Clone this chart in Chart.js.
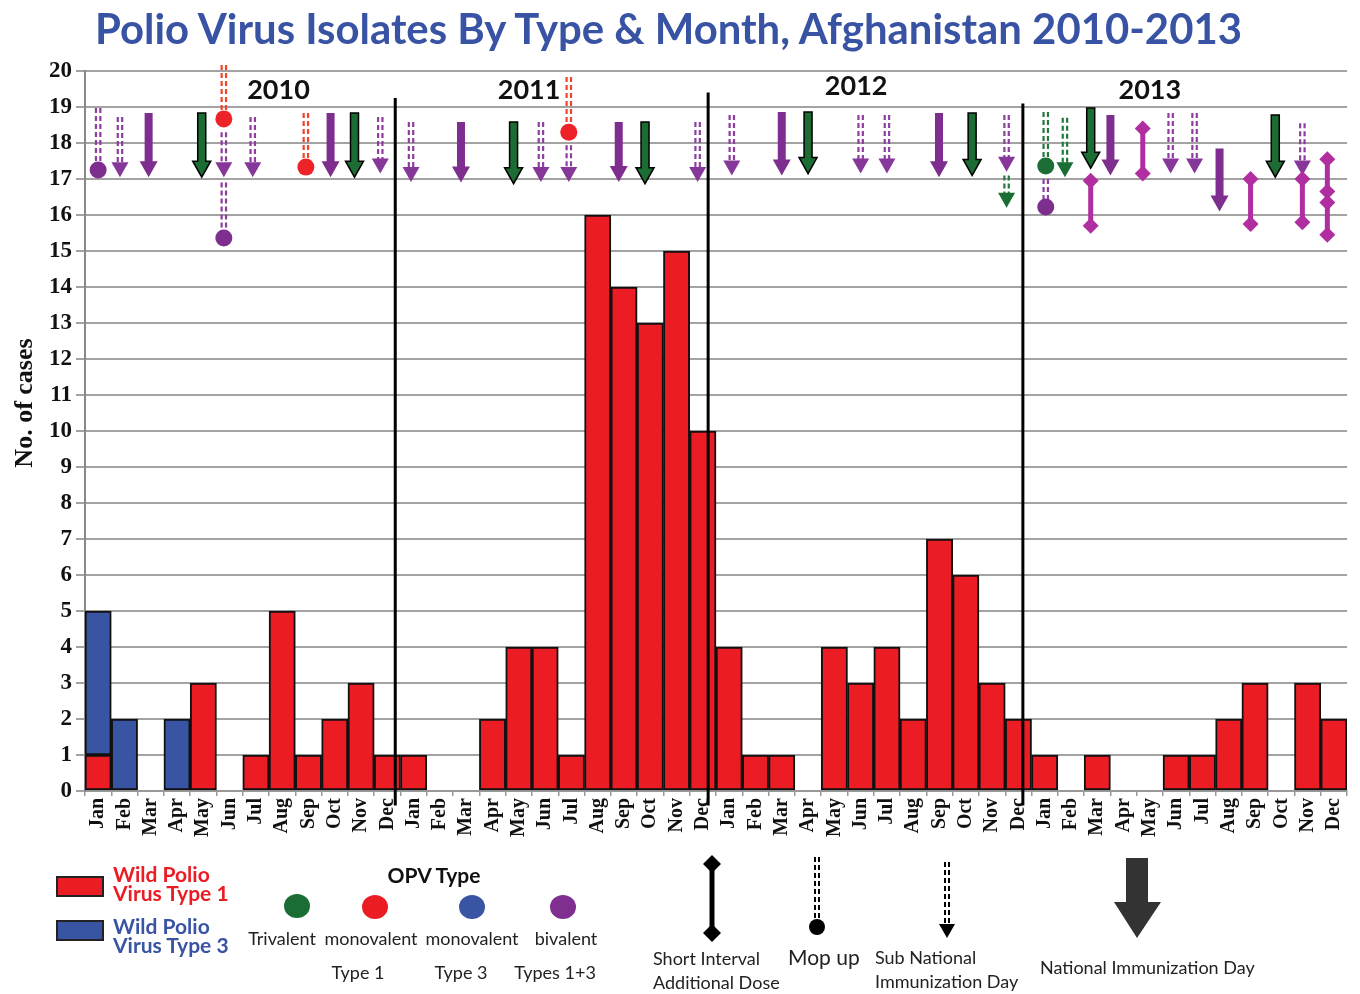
<!DOCTYPE html>
<html>
<head>
<meta charset="utf-8">
<title>Polio Virus Isolates By Type &amp; Month, Afghanistan 2010-2013</title>
<script src="https://cdn.jsdelivr.net/npm/chart.js@4.4.1/dist/chart.umd.min.js"></script>
<style>
  body { margin: 0; background: #fff; }
  #wrap { position: relative; width: 1360px; height: 994px; overflow: hidden; }
  #box { position: absolute; left: 0; top: 0; width: 1360px; height: 860px; }
  #over { position: absolute; left: 0; top: 0; pointer-events: none; }
</style>
</head>
<body>
<div id="wrap">
  <div id="box"><canvas id="polio"></canvas></div>
  <svg id="over" width="1360" height="994" xmlns="http://www.w3.org/2000/svg">
    <text x="95" y="44" font-family="Lato" font-weight="700" font-size="42" fill="#3953a4"
          textLength="1147" lengthAdjust="spacingAndGlyphs">Polio Virus Isolates By Type &amp; Month, Afghanistan 2010-2013</text>

    <!-- y axis title -->
    <text transform="translate(32,403) rotate(-90)" text-anchor="middle" font-family="Liberation Serif"
          font-weight="700" font-size="26" fill="#111">No. of cases</text>

    <!-- case legend -->
    <rect x="57" y="877" width="46" height="19" fill="#ec1c24" stroke="#222" stroke-width="2"/>
    <rect x="57" y="921" width="46" height="19" fill="#3a54a4" stroke="#222" stroke-width="2"/>
    <g font-family="Lato" font-weight="700" font-size="21">
      <text x="113" y="882" fill="#ec1c24">Wild Polio</text>
      <text x="113" y="901" fill="#ec1c24">Virus Type 1</text>
      <text x="113" y="934" fill="#3a54a4">Wild Polio</text>
      <text x="113" y="953" fill="#3a54a4">Virus Type 3</text>
      <text x="434" y="883" text-anchor="middle" fill="#111">OPV Type</text>
    </g>

    <!-- OPV type dots -->
    <ellipse cx="297" cy="906" rx="13" ry="12" fill="#1a6e35"/>
    <ellipse cx="375" cy="907" rx="13" ry="12" fill="#ec1c24"/>
    <ellipse cx="472" cy="907" rx="13" ry="12" fill="#3a54a4"/>
    <ellipse cx="563" cy="907" rx="13" ry="12" fill="#7f2f8f"/>
    <g font-family="Lato" font-size="18" fill="#222">
      <text x="282" y="945" text-anchor="middle">Trivalent</text>
      <text x="371" y="945" text-anchor="middle">monovalent</text>
      <text x="472" y="945" text-anchor="middle">monovalent</text>
      <text x="566" y="945" text-anchor="middle">bivalent</text>
      <text x="358" y="979" text-anchor="middle">Type 1</text>
      <text x="461" y="979" text-anchor="middle">Type 3</text>
      <text x="555" y="979" text-anchor="middle">Types 1+3</text>

      <text x="653" y="965">Short Interval</text>
      <text x="653" y="989">Additional Dose</text>
      <text x="788" y="965" font-size="21">Mop up</text>
      <text x="875" y="964">Sub National</text>
      <text x="875" y="988">Immunization Day</text>
      <text x="1040" y="974">National Immunization Day</text>
    </g>

    <!-- campaign legend -->
    <line x1="712" y1="864" x2="712" y2="933" stroke="#000" stroke-width="5"/>
    <polygon points="712,855 721,864 712,873 703,864" fill="#000"/>
    <polygon points="712,924 721,933 712,942 703,933" fill="#000"/>

    <line x1="815" y1="857" x2="815" y2="920" stroke="#000" stroke-width="2" stroke-dasharray="5 3"/>
    <line x1="819" y1="857" x2="819" y2="920" stroke="#000" stroke-width="2" stroke-dasharray="5 3"/>
    <circle cx="817" cy="927" r="8" fill="#000"/>

    <line x1="945" y1="862" x2="945" y2="924" stroke="#000" stroke-width="2" stroke-dasharray="5 3"/>
    <line x1="949" y1="862" x2="949" y2="924" stroke="#000" stroke-width="2" stroke-dasharray="5 3"/>
    <polygon points="939,924 955,924 947,938" fill="#000"/>

    <polygon points="1126,858 1148,858 1148,902 1161,902 1137,938 1114,902 1126,902" fill="#333"/>
  </svg>
</div>
<script>
// month labels and case counts, Jan 2010 .. Dec 2013
var months = ['Jan', 'Feb', 'Mar', 'Apr', 'May', 'Jun', 'Jul', 'Aug', 'Sep', 'Oct', 'Nov', 'Dec'];
var labels = months.concat(months, months, months);
var years = ['2010', '2011', '2012', '2013'];

var wpv1 = [1, 0, 0, 0, 3, 0, 1, 5, 1, 2, 3, 1,
            1, 0, 0, 2, 4, 4, 1, 16, 14, 13, 15, 10,
            4, 1, 1, 0, 4, 3, 4, 2, 7, 6, 3, 2,
            1, 0, 1, 0, 0, 1, 1, 2, 3, 0, 3, 2];
var wpv3 = [4, 2, 0, 2, 0, 0, 0, 0, 0, 0, 0, 0,
            0, 0, 0, 0, 0, 0, 0, 0, 0, 0, 0, 0,
            0, 0, 0, 0, 0, 0, 0, 0, 0, 0, 0, 0,
            0, 0, 0, 0, 0, 0, 0, 0, 0, 0, 0, 0];

// campaigns: [month index, start value, end value, vaccine]
var nidCampaigns = [
    [1.92, 18.83, 17.05, 'bi'], [3.94, 18.83, 17.05, 'tri'], [8.84, 18.83, 17.05, 'bi'], [9.75, 18.83, 17.05, 'tri'],
    [13.8, 18.58, 16.9, 'bi'], [15.8, 18.58, 16.87, 'tri'], [19.8, 18.58, 16.92, 'bi'], [20.8, 18.58, 16.87, 'tri'],
    [26.0, 18.86, 17.1, 'bi'], [27.0, 18.86, 17.15, 'tri'], [31.98, 18.83, 17.05, 'bi'], [33.24, 18.83, 17.1, 'tri'],
    [37.75, 18.97, 17.3, 'tri'], [38.5, 18.78, 17.1, 'bi'], [42.65, 17.85, 16.1, 'bi'], [44.77, 18.78, 17.05, 'tri']
];
var snidCampaigns = [
    [0.83, 18.72, 17.05, 'bi'], [4.78, 18.3, 17.05, 'bi'], [5.88, 18.72, 17.05, 'bi'], [10.73, 18.72, 17.15, 'bi'],
    [11.9, 18.58, 16.92, 'bi'], [16.84, 18.58, 16.92, 'bi'], [17.9, 17.94, 16.92, 'bi'], [22.8, 18.58, 16.92, 'bi'],
    [24.1, 18.78, 17.1, 'bi'], [29.0, 18.78, 17.15, 'bi'], [30.0, 18.78, 17.15, 'bi'], [34.55, 18.78, 17.2, 'bi'],
    [34.55, 17.1, 16.2, 'tri'], [36.77, 18.7, 17.05, 'tri'], [40.79, 18.83, 17.15, 'bi'], [41.7, 18.83, 17.15, 'bi'],
    [45.8, 18.55, 17.1, 'bi']
];
var mopCampaigns = [
    [0, 18.97, 17.25, 'bi'], [4.78, 20.17, 18.67, 'm1'], [4.78, 16.9, 15.36, 'bi'], [7.9, 18.83, 17.33, 'm1'],
    [17.9, 19.83, 18.3, 'm1'], [36.04, 18.86, 17.36, 'tri'], [36.04, 17.0, 16.22, 'bi']
];
var siadCampaigns = [
    [37.75, 16.95, 15.7], [39.73, 18.4, 17.15], [43.83, 17.0, 15.75], [45.8, 17.0, 15.8],
    [46.75, 17.55, 16.65], [46.75, 16.35, 15.45]
];

var vacColor = { tri: '#1b6d33', m1: '#ee2229', bi: '#7e2e8e' };
var dotColor = { tri: '#237a3c', m1: '#f0452a', bi: '#8c3f9e' };

function dotted(ctx, x, y0, y1, color) {
    ctx.save();
    ctx.strokeStyle = color;
    ctx.lineWidth = 2.2;
    ctx.setLineDash([5, 3]);
    [-2.2, 2.2].forEach(function (d) {
        ctx.beginPath();
        ctx.moveTo(x + d, y0);
        ctx.lineTo(x + d, y1);
        ctx.stroke();
    });
    ctx.restore();
}

function diamond(ctx, x, y, s) {
    ctx.beginPath();
    ctx.moveTo(x, y - s);
    ctx.lineTo(x + s, y);
    ctx.lineTo(x, y + s);
    ctx.lineTo(x - s, y);
    ctx.closePath();
    ctx.fill();
}

var campaignPlugin = {
    id: 'campaigns',
    afterDatasetsDraw: function (chart) {
        var ctx = chart.ctx, xs = chart.scales.x, ys = chart.scales.y;
        ctx.save();

        // year separators
        [[11.3, 19.25], [23.2, 19.4], [35.17, 19.1]].forEach(function (b) {
            ctx.strokeStyle = '#000';
            ctx.lineWidth = 3;
            ctx.beginPath();
            ctx.moveTo(xs.getPixelForValue(b[0]), ys.getPixelForValue(b[1]));
            ctx.lineTo(xs.getPixelForValue(b[0]), ys.getPixelForValue(-0.4));
            ctx.stroke();
        });

        // year labels
        ctx.fillStyle = '#111';
        ctx.font = 'bold 27px Lato';
        ctx.textAlign = 'center';
        [[6.86, 19.22], [16.39, 19.22], [28.83, 19.33], [40.0, 19.22]].forEach(function (p, i) {
            ctx.fillText(years[i], xs.getPixelForValue(p[0]), ys.getPixelForValue(p[1]));
        });

        // national immunization days
        nidCampaigns.forEach(function (c) {
            var x = xs.getPixelForValue(c[0]), y0 = ys.getPixelForValue(c[1]), y1 = ys.getPixelForValue(c[2]);
            ctx.beginPath();
            ctx.moveTo(x - 4, y0);
            ctx.lineTo(x + 4, y0);
            ctx.lineTo(x + 4, y1 - 16);
            ctx.lineTo(x + 9, y1 - 16);
            ctx.lineTo(x, y1);
            ctx.lineTo(x - 9, y1 - 16);
            ctx.lineTo(x - 4, y1 - 16);
            ctx.closePath();
            ctx.fillStyle = vacColor[c[3]];
            ctx.fill();
            if (c[3] === 'tri') {
                ctx.strokeStyle = '#000';
                ctx.lineWidth = 1.5;
                ctx.stroke();
            }
        });

        // sub national immunization days
        snidCampaigns.forEach(function (c) {
            var x = xs.getPixelForValue(c[0]), y0 = ys.getPixelForValue(c[1]), y1 = ys.getPixelForValue(c[2]);
            dotted(ctx, x, y0, y1 - 14, dotColor[c[3]]);
            ctx.fillStyle = c[3] === 'bi' ? '#86379a' : vacColor[c[3]];
            ctx.beginPath();
            ctx.moveTo(x - 8.5, y1 - 15);
            ctx.lineTo(x + 8.5, y1 - 15);
            ctx.lineTo(x, y1);
            ctx.closePath();
            ctx.fill();
        });

        // mop up
        mopCampaigns.forEach(function (c) {
            var x = xs.getPixelForValue(c[0]), y0 = ys.getPixelForValue(c[1]), y1 = ys.getPixelForValue(c[2]);
            dotted(ctx, x, y0, y1 - 6, dotColor[c[3]]);
            ctx.fillStyle = vacColor[c[3]];
            ctx.beginPath();
            ctx.arc(x, y1, 8.5, 0, Math.PI * 2);
            ctx.fill();
        });

        // short interval additional dose
        siadCampaigns.forEach(function (c) {
            var x = xs.getPixelForValue(c[0]), y0 = ys.getPixelForValue(c[1]), y1 = ys.getPixelForValue(c[2]);
            ctx.strokeStyle = '#b02ea0';
            ctx.fillStyle = '#b02ea0';
            ctx.lineWidth = 5;
            ctx.beginPath();
            ctx.moveTo(x, y0);
            ctx.lineTo(x, y1);
            ctx.stroke();
            diamond(ctx, x, y0, 8);
            diamond(ctx, x, y1, 8);
        });

        ctx.restore();
    }
};

var serif = 'Liberation Serif';
var ctx = document.getElementById('polio').getContext('2d');
var polioChart = new Chart(ctx, {
    type: 'bar',
    data: {
        labels: labels,
        datasets: [{
            label: 'Wild Polio Virus Type 1',
            data: wpv1.map(function (v) { return v || null; }),
            backgroundColor: '#ec1c24',
            borderColor: '#111',
            borderWidth: 2,
            borderSkipped: false
        }, {
            label: 'Wild Polio Virus Type 3',
            data: wpv3.map(function (v) { return v || null; }),
            backgroundColor: '#3a54a4',
            borderColor: '#111',
            borderWidth: 2,
            borderSkipped: false
        }]
    },
    options: {
        responsive: true,
        maintainAspectRatio: false,
        animation: false,
        barPercentage: 1,
        categoryPercentage: 1,
        layout: { padding: { top: 71, left: 0, right: 8, bottom: 9 } },
        plugins: {
            legend: { display: false },
            tooltip: { enabled: false }
        },
        scales: {
            x: {
                stacked: true,
                afterFit: function (s) { s.height = 60; },
                grid: { drawOnChartArea: false, tickLength: 5, color: '#999', lineWidth: 1.5 },
                border: { color: '#999', width: 2 },
                ticks: {
                    autoSkip: false,
                    minRotation: 90,
                    maxRotation: 90,
                    padding: 2,
                    color: '#111',
                    font: { family: serif, weight: 'bold', size: 20 }
                }
            },
            y: {
                stacked: true,
                min: 0,
                max: 20,
                afterFit: function (s) { s.width = 85; },
                grid: { color: '#a3a3a3', lineWidth: 2, tickLength: 9 },
                border: { color: '#888', width: 2 },
                ticks: {
                    stepSize: 1,
                    padding: 4,
                    color: '#111',
                    font: { family: serif, weight: 'bold', size: 23 }
                }
            }
        }
    },
    plugins: [campaignPlugin]
});
</script>
</body>
</html>
